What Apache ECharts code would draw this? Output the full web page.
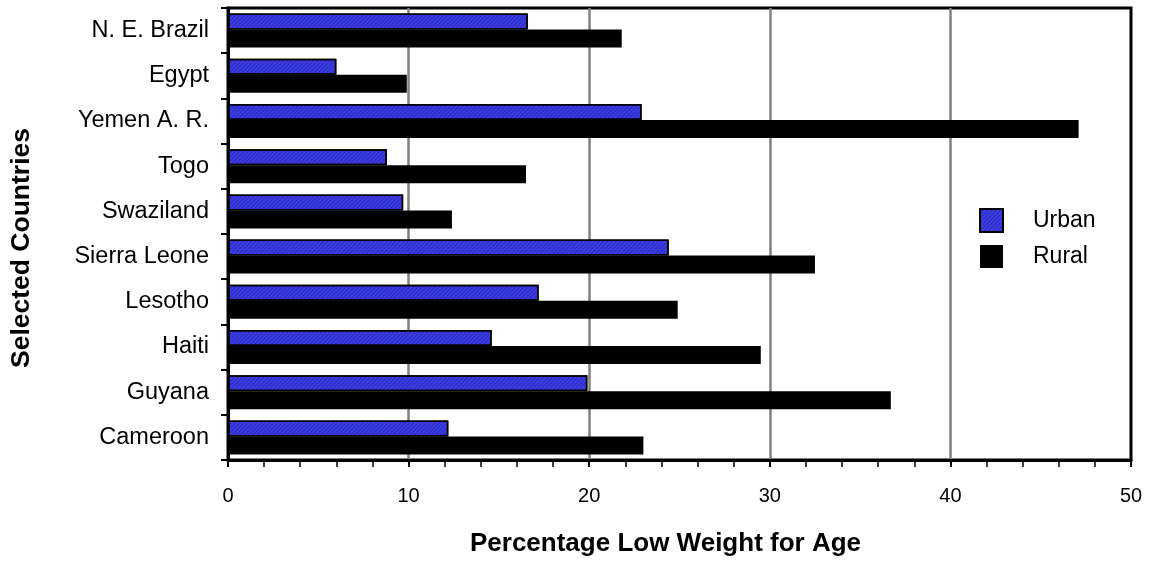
<!DOCTYPE html>
<html>
<head>
<meta charset="utf-8">
<script src="https://cdn.jsdelivr.net/npm/echarts@6/dist/echarts.min.js"></script>
<style>
  html, body { margin: 0; padding: 0; background: #fff; }
  #chart { width: 1152px; height: 562px; }
</style>
</head>
<body>
<div id="chart"></div>
<script>
// Countries, listed top to bottom
const countries = ['N. E. Brazil', 'Egypt', 'Yemen A. R.', 'Togo', 'Swaziland',
                   'Sierra Leone', 'Lesotho', 'Haiti', 'Guyana', 'Cameroon'];
// Percentage of children with low weight for age
const urban = [16.6, 6.0, 22.9, 8.8, 9.7, 24.4, 17.2, 14.6, 19.9, 12.2];
const rural = [21.8, 9.9, 47.1, 16.5, 12.4, 32.5, 24.9, 29.5, 36.7, 23.0];
const xTicks = { min: 0, max: 50, step: 10 };

const FONT = '"Liberation Sans", Arial, Helvetica, sans-serif';

const chart = echarts.init(document.getElementById('chart'));
chart.setOption({
  backgroundColor: '#ffffff',
  animation: false,
  textStyle: { fontFamily: FONT, color: '#000' },
  grid: {
    left: 228, right: 21, top: 8, bottom: 100,
    show: true, borderColor: '#000', borderWidth: 3, backgroundColor: 'transparent'
  },
  legend: {
    orient: 'vertical',
    left: 979, top: 208, padding: 0,
    icon: 'rect',
    itemWidth: 23, itemHeight: 23, itemGap: 12,
    textStyle: { fontFamily: FONT, fontSize: 23, color: '#000', padding: [0, 0, 0, 25] },
    data: ['Urban', 'Rural']
  },
  xAxis: {
    type: 'value',
    min: xTicks.min, max: xTicks.max, interval: xTicks.step,
    name: 'Percentage Low Weight for Age',
    nameLocation: 'middle', nameGap: 71,
    nameTextStyle: { fontFamily: FONT, fontSize: 26, fontWeight: 'bold', color: '#000',
                     padding: [0, 28, 0, 0] },
    axisLine: { show: true, lineStyle: { color: '#000', width: 3 } },
    axisTick: { show: true, length: 7, lineStyle: { color: '#000', width: 2 } },
    minorTick: { show: true, splitNumber: 5, length: 7, lineStyle: { color: '#000', width: 1.5 } },
    axisLabel: { fontFamily: FONT, fontSize: 20, color: '#000', margin: 26 },
    splitLine: { show: true, showMinLine: false, showMaxLine: false,
                 lineStyle: { color: '#808080', width: 2.5 } }
  },
  yAxis: {
    type: 'category',
    data: countries,
    inverse: true,
    name: 'Selected Countries',
    nameLocation: 'middle', nameGap: 193,
    nameTextStyle: { fontFamily: FONT, fontSize: 26.5, fontWeight: 'bold', color: '#000',
                     padding: [0, 28, 0, 0] },
    axisLine: { show: true, lineStyle: { color: '#000', width: 3 } },
    axisTick: { show: true, length: 7, lineStyle: { color: '#000', width: 2 } },
    axisLabel: { fontFamily: FONT, fontSize: 23.5, color: '#000', margin: 19 },
    splitLine: { show: false }
  },
  series: [
    {
      name: 'Urban',
      type: 'bar',
      data: urban,
      barWidth: 16,
      barGap: '0%',
      itemStyle: {
        color: '#3c3ce4',
        borderColor: '#000',
        borderWidth: 1.5,
        decal: {
          symbol: 'rect', symbolSize: 1,
          dashArrayX: [1, 0], dashArrayY: [1, 2],
          rotation: -Math.PI / 4,
          color: 'rgba(10, 10, 110, 0.35)'
        }
      }
    },
    {
      name: 'Rural',
      type: 'bar',
      data: rural,
      barWidth: 18,
      barGap: '0%',
      itemStyle: { color: '#000', borderColor: '#000', borderWidth: 0 }
    }
  ]
});
</script>
</body>
</html>
